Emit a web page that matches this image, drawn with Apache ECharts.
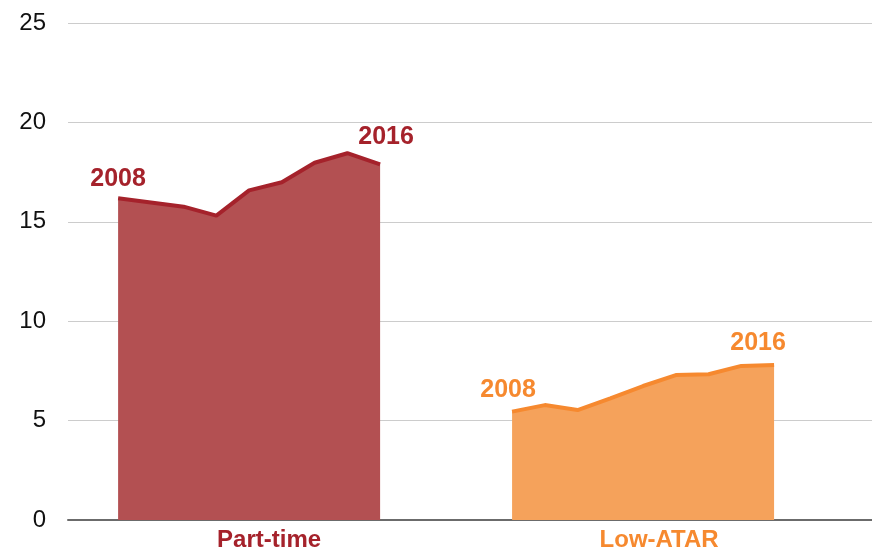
<!DOCTYPE html>
<html>
<head>
<meta charset="utf-8">
<script src="https://cdn.jsdelivr.net/npm/echarts@6/dist/echarts.min.js"></script>
<style>
  html, body { margin: 0; padding: 0; background: #fff; }
  #chart { width: 872px; height: 550px; }
</style>
</head>
<body>
<div id="chart"></div>
<script>
const years = [2008, 2009, 2010, 2011, 2012, 2013, 2014, 2015, 2016];
const partTime = [16.18, 15.97, 15.76, 15.31, 16.58, 16.99, 17.97, 18.45, 17.89];
const lowAtar = [5.45, 5.78, 5.53, 6.12, 6.74, 7.29, 7.33, 7.75, 7.80];
const groupNames = ["Part-time", "Low-ATAR"];
const yTicks = [0, 5, 10, 15, 20, 25];

const RED = "#a5222b";
const RED_FILL = "#b35052";
const ORANGE = "#f6892f";
const ORANGE_FILL = "#f5a25b";
const FONT = "Liberation Sans, Arial, sans-serif";

// each group sits on its own stretch of a shared x scale
const groupStart = [0, 12.03];
const labelPos = [4.61, 16.52];
// label anchor (bottom-centre) relative to the first/last point, per group
const endOffsets = [
  [[0, -7], [6, -15]],
  [[-4, -9], [-16, -9]],
];

function toPoints(values, start, color, offs) {
  return values.map((v, i) => {
    const item = { value: [start + i, v] };
    if (i === 0 || i === values.length - 1) {
      item.label = {
        show: true,
        position: offs[i === 0 ? 0 : 1],
        align: "center",
        verticalAlign: "bottom",
        color: color,
        fontSize: 25,
        fontWeight: "bold",
        fontFamily: FONT,
        formatter: String(years[i]),
      };
    }
    return item;
  });
}

function areaSeries(name, values, start, line, fill, offs) {
  return {
    name,
    type: "line",
    data: toPoints(values, start, line, offs),
    symbol: "circle",
    symbolSize: 0,
    showSymbol: true,
    lineStyle: { color: line, width: 4 },
    itemStyle: { color: line },
    areaStyle: { color: fill, opacity: 1 },
    label: { show: false },
    labelLayout: { hideOverlap: false },
    z: 3,
  };
}

const chart = echarts.init(document.getElementById("chart"), null, { renderer: "canvas" });

chart.setOption({
  backgroundColor: "#fff",
  animation: false,
  grid: { left: 68, right: 0, top: 23, bottom: 30, containLabel: false, outerBoundsMode: "none" },
  xAxis: {
    type: "value",
    min: -1.53,
    max: 23.02,
    splitLine: { show: false },
    axisLine: { show: true, onZero: false, lineStyle: { color: "#6b6b6b", width: 2 } },
    axisTick: { show: false },
    axisLabel: {
      show: true,
      customValues: labelPos,
      margin: 8,
      formatter: (v) => {
        const i = labelPos.indexOf(v);
        return i === 0 ? "{a|" + groupNames[0] + "}" : "{b|" + groupNames[1] + "}";
      },
      rich: {
        a: { color: RED, fontSize: 24, fontWeight: "bold", fontFamily: FONT },
        b: { color: ORANGE, fontSize: 24, fontWeight: "bold", fontFamily: FONT },
      },
    },
  },
  yAxis: {
    type: "value",
    min: yTicks[0],
    max: yTicks[yTicks.length - 1],
    interval: 5,
    axisLine: { show: false },
    axisTick: { show: false },
    splitLine: { lineStyle: { color: "#cccccc", width: 1 } },
    axisLabel: {
      color: "#111",
      fontSize: 24,
      margin: 22,
      padding: [3, 0, 0, 0],
      fontFamily: FONT,
    },
  },
  series: [
    areaSeries(groupNames[0], partTime, groupStart[0], RED, RED_FILL, endOffsets[0]),
    areaSeries(groupNames[1], lowAtar, groupStart[1], ORANGE, ORANGE_FILL, endOffsets[1]),
  ],
});
</script>
</body>
</html>
